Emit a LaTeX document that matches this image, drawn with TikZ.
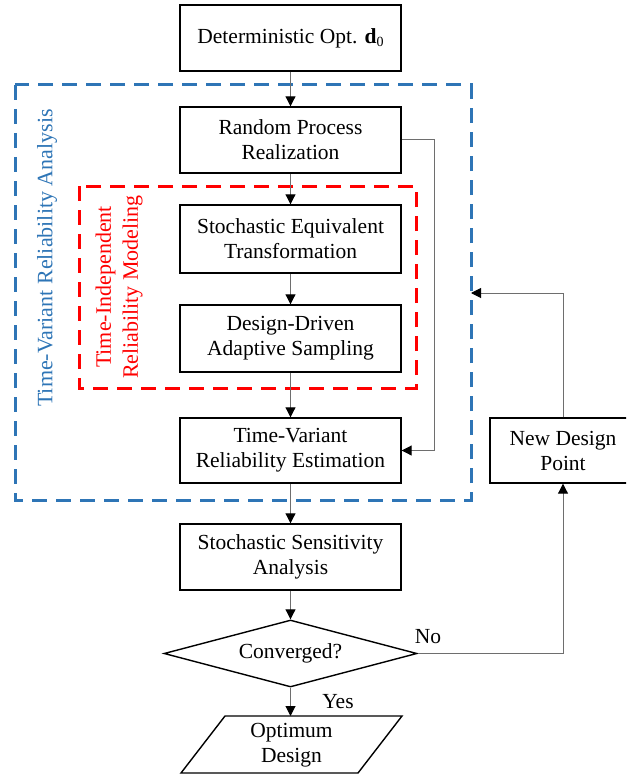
\documentclass[tikz,border=0pt]{standalone}
\usepackage{fontspec}
\setmainfont{Liberation Serif}
\usetikzlibrary{shapes.geometric,arrows.meta}
\definecolor{groupblue}{RGB}{46,117,182}
\definecolor{linegray}{RGB}{110,110,110}
\newcommand{\boxfont}{\fontsize{21.5}{25}\selectfont}
\tikzset{
  procbox/.style={draw=black, line width=1.4pt, minimum width=221pt, align=center,
    inner sep=0pt, font=\boxfont},
  decision/.style={draw=black, line width=1.4pt, diamond, aspect=3.78,
    minimum width=253pt, minimum height=67pt, inner sep=0pt, font=\boxfont},
  flow/.style={draw=linegray, line width=1pt,
    -{Triangle[length=10pt,width=10pt,fill=black,color=black]}},
  groupframe/.style={line width=3pt, dash pattern=on 15pt off 9pt},
  grouplabel/.style={rotate=90, align=center, font=\fontsize{22}{27}\selectfont},
  edgelabel/.style={font=\boxfont}
}
\begin{document}
\begin{tikzpicture}[x=1pt,y=-1pt]
  \useasboundingbox (0,0) rectangle (626,778);
  \clip (0,0) rectangle (626,778);

  % group frames
  \draw[groupframe, draw=groupblue] (15,85) rectangle (471,500);
  \draw[groupframe, draw=red] (79,186) rectangle (416,388);
  \node[grouplabel, text=groupblue] (tvlabel) at (47,258) {Time-Variant Reliability Analysis};
  \node[grouplabel, text=red] (tilabel) at (119,287) {Time-Independent\\Reliability Modeling};

  % process boxes
  \node[procbox, minimum height=66pt] (det) at (290.5,38)
    {Deterministic Opt. \textbf{d}\raisebox{-0.35ex}{\fontsize{14}{14}\selectfont 0}};
  \node[procbox, minimum height=66pt] (rp)  at (290.5,140) {Random Process\\Realization};
  \node[procbox, minimum height=68pt] (se)  at (290.5,239) {Stochastic Equivalent\\Transformation};
  \node[procbox, minimum height=67pt] (dd)  at (290.5,338.5) {Design-Driven\\Adaptive Sampling};
  \node[procbox, minimum height=65pt] (tv)  at (290.5,450.5) {Time-Variant\\Reliability Estimation};
  \node[procbox, minimum height=66pt] (ss)  at (290.5,557) {Stochastic Sensitivity\\Analysis};
  \node[decision] (conv) at (290.5,653.5) {Converged?};
  \node[procbox, minimum width=146pt, minimum height=65pt] (nd) at (563,450.5) {New Design\\Point};

  % output parallelogram
  \draw[line width=1.4pt] (225,716) -- (402,716) -- (358,773) -- (181,773) -- cycle;
  \node[align=center, font=\boxfont] (opt) at (291.5,745) {Optimum\\Design};
  \coordinate (optTop) at (290.5,716);
  \coordinate (loopIn) at (471,293);
  \coordinate (sideX) at (434,0);

  % main flow
  \draw[flow] (det) -- (rp);
  \draw[flow] (rp) -- (se);
  \draw[flow] (se) -- (dd);
  \draw[flow] (dd) -- (tv);
  \draw[flow] (tv) -- (ss);
  \draw[flow] (ss) -- (conv);
  \draw[flow] (conv) -- (optTop);

  % bypass and loop
  \draw[flow] (rp.east) -- (rp.east -| sideX) |- (tv.east);
  \draw[flow] (conv.east) -| (nd.south);
  \draw[flow] (nd.north) |- (loopIn);

  \node[edgelabel] (nolabel) at (428,637) {No};
  \node[edgelabel] (yeslabel) at (338,702) {Yes};
\end{tikzpicture}
\end{document}
